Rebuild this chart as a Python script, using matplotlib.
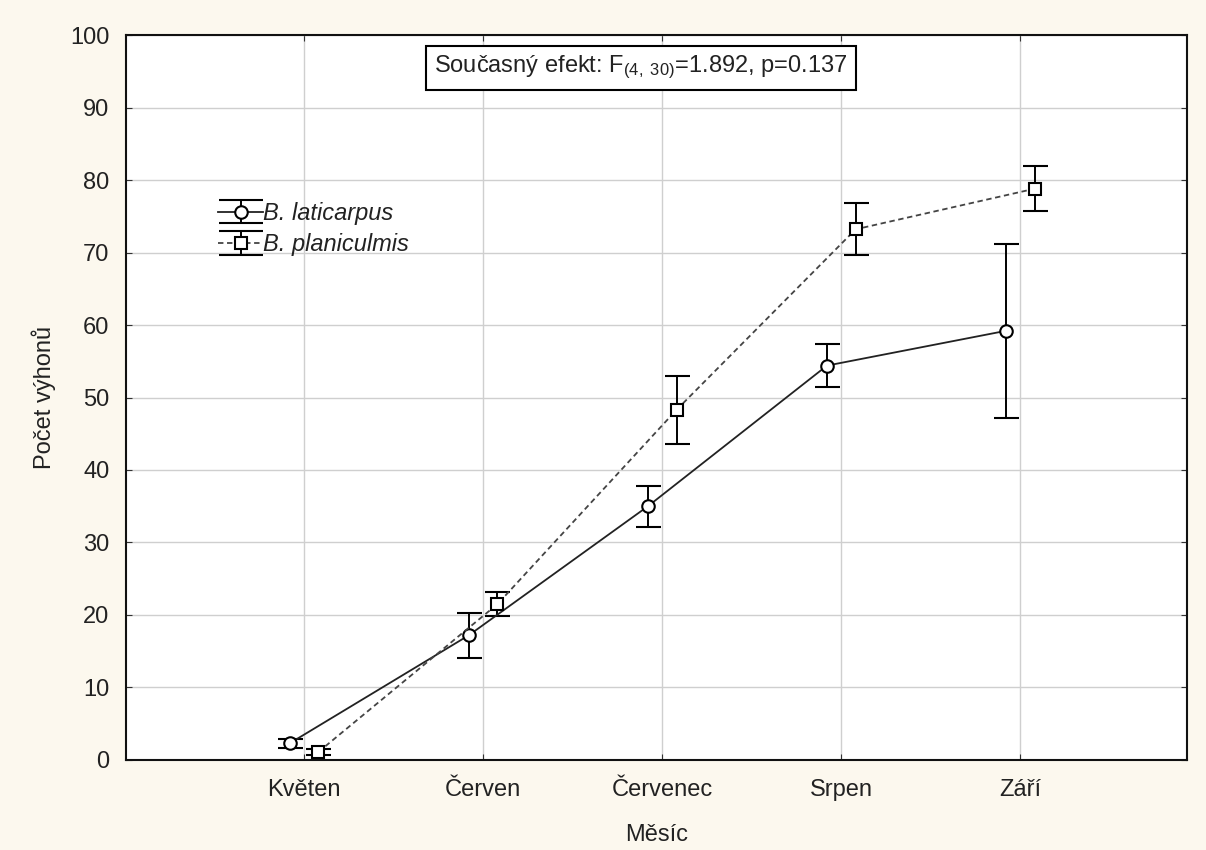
import numpy as np
import matplotlib
matplotlib.use("Agg")
import matplotlib.pyplot as plt

plt.rcParams['font.family'] = ['Liberation Sans', 'DejaVu Sans']
plt.rcParams['mathtext.fontset'] = 'custom'
plt.rcParams['mathtext.rm'] = 'Liberation Sans'
plt.rcParams['mathtext.it'] = 'Liberation Sans:italic'

months = ["Květen", "Červen", "Červenec", "Srpen", "Září"]

# B. laticarpus: means and half-width of error bars
lat_mean = [2.3, 17.2, 35.0, 54.4, 59.2]
lat_err = [0.6, 3.1, 2.8, 3.0, 12.0]

# B. planiculmis
pla_mean = [1.1, 21.5, 48.3, 73.2, 78.8]
pla_err = [0.4, 1.7, 4.7, 3.6, 3.1]

x = np.arange(len(months))
offset = 0.08
fs = 17

fig = plt.figure(figsize=(12.06, 8.5), dpi=100, facecolor="#fcf8ee")
ax = fig.add_axes([0.1045, 0.1059, 0.8797, 0.8529])
ax.set_facecolor("white")

lat_style = dict(color="#222222", lw=1.3, marker="o", ms=9, mfc="white",
                 mec="black", mew=1.5, ecolor="black", elinewidth=1.4,
                 capthick=1.4)
pla_style = dict(color="#444444", lw=1.3, ls=(0, (3, 2)), marker="s", ms=8,
                 mfc="white", mec="black", mew=1.5, ecolor="black",
                 elinewidth=1.4, capthick=1.4)

ax.errorbar(x - offset, lat_mean, yerr=lat_err, capsize=9, zorder=3, **lat_style)
ax.errorbar(x + offset, pla_mean, yerr=pla_err, capsize=9, zorder=3, **pla_style)

# legend proxies with wide caps, like the original legend
h1 = ax.errorbar([np.nan], [np.nan], yerr=[1], capsize=16, **lat_style)
h2 = ax.errorbar([np.nan], [np.nan], yerr=[1], capsize=16, **pla_style)

ax.set_xlim(-0.994, 4.93)
ax.set_ylim(0, 100)
ax.set_xticks(x)
ax.set_xticklabels(months)
ax.set_yticks(np.arange(0, 101, 10))
ax.grid(True, color="#cfcfcf", lw=1)
ax.set_axisbelow(True)
ax.tick_params(direction="in", length=4, labelsize=fs, color="#333333",
               labelcolor="#222222", right=True, top=True)
ax.tick_params(axis="x", pad=14)
ax.tick_params(axis="y", pad=12)
for s in ax.spines.values():
    s.set_linewidth(1.5)
    s.set_color("#111111")

ax.set_xlabel("Měsíc", fontsize=fs, color="#222222", labelpad=16)
ax.set_ylabel("Počet výhonů", fontsize=fs, color="#222222", labelpad=10)

ax.text(0.485, 0.955, "Současný efekt: F$_{(4,\\ 30)}$=1.892, p=0.137",
        transform=ax.transAxes, ha="center", va="center", fontsize=fs,
        color="#222222",
        bbox=dict(boxstyle="square,pad=0.35", fc="white", ec="black", lw=1.5))

leg = ax.legend([h1, h2], ["B. laticarpus", "B. planiculmis"],
                loc="upper left", bbox_to_anchor=(0.078, 0.783), frameon=False,
                fontsize=fs, handlelength=1.9, handletextpad=0.0,
                labelspacing=0.35, borderaxespad=0)
for t in leg.get_texts():
    t.set_fontstyle("italic")
    t.set_color("#222222")

fig.savefig("out.png", dpi=100, facecolor=fig.get_facecolor())
